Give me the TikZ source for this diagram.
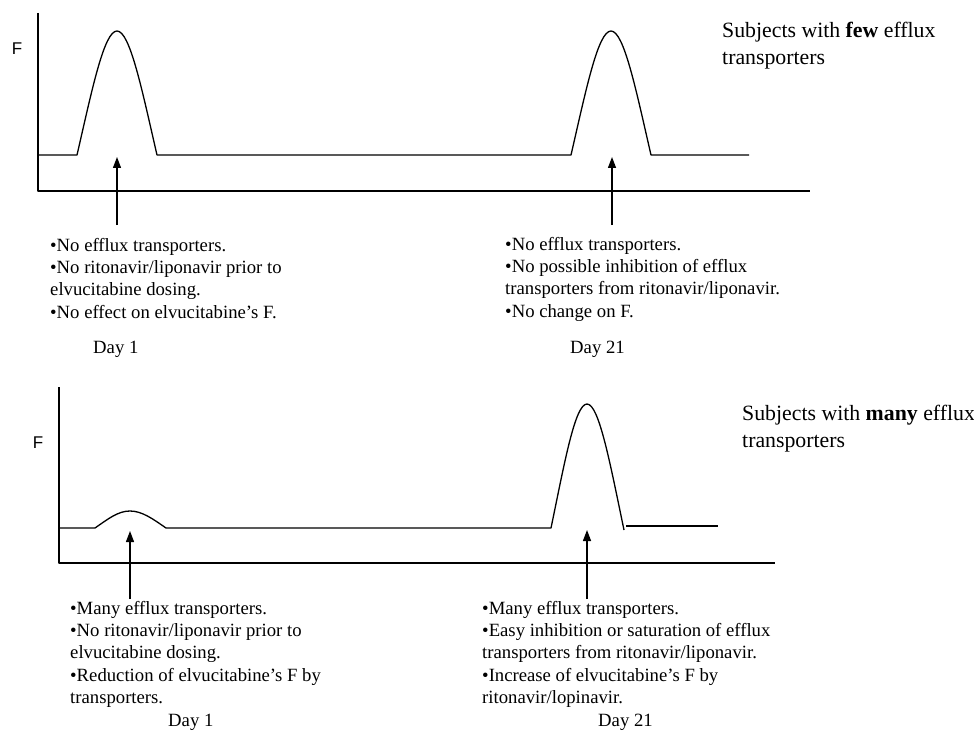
\documentclass[tikz,border=0pt]{standalone}
\usepackage{fontspec}
\setmainfont{Liberation Serif}
\newfontfamily\axisfont{Liberation Sans}
\usetikzlibrary{arrows.meta}
\begin{document}
\begin{tikzpicture}[x=1pt,y=-1pt,
  line join=round,
  axis/.style={line width=1.4pt},
  curve/.style={line width=1.3pt},
  pointer/.style={line width=1.3pt,-{Triangle[length=11pt,width=8pt]}},
  note/.style={anchor=base west,inner sep=0pt,font=\fontsize{18.7}{22.4}\selectfont},
  daylabel/.style={anchor=base west,inner sep=0pt,font=\fontsize{18.7}{22.4}\selectfont},
  title/.style={anchor=base west,inner sep=0pt,font=\fontsize{21.8}{27}\selectfont},
  flabel/.style={inner sep=0pt,font=\axisfont\fontsize{17}{18}\selectfont}]
\useasboundingbox (0,0) rectangle (974,738);

% ---------- top chart ----------
\coordinate (tO) at (38,191);
\coordinate (tYtop) at (38,13);
\coordinate (tXend) at (810,191);
\draw[axis] (tYtop) -- (tO) -- (tXend);
\node[flabel] (tF) at (17,49) {F};

\draw[curve] (38,155) -- (77,155)
  .. controls (92,90) and (104,31) .. (117,31)
  .. controls (130,31) and (142,90) .. (157,155)
  -- (571,155)
  .. controls (586,90) and (598,31) .. (611,31)
  .. controls (624,31) and (636,90) .. (651,155)
  -- (749,155);

\coordinate (tAtail1) at (117,225);
\coordinate (tAtip1) at (117,157);
\coordinate (tAtail2) at (612,225);
\coordinate (tAtip2) at (612,157);
\draw[pointer] (tAtail1) -- (tAtip1);
\draw[pointer] (tAtail2) -- (tAtip2);

\node[title] (tTitle) at (722,38) {\begin{tabular}[t]{@{}l@{}}Subjects with \textbf{few} efflux\\transporters\end{tabular}};

\node[note] (tL) at (50,251) {\begin{tabular}[t]{@{}l@{}}•No efflux transporters.\\•No ritonavir/liponavir prior to\\elvucitabine dosing.\\•No effect on elvucitabine’s F.\end{tabular}};
\node[note] (tR) at (505,250) {\begin{tabular}[t]{@{}l@{}}•No efflux transporters.\\•No possible inhibition of efflux\\transporters from ritonavir/liponavir.\\•No change on F.\end{tabular}};
\node[daylabel] (tD1) at (93,353) {Day 1};
\node[daylabel] (tD21) at (570,353) {Day 21};

% ---------- bottom chart ----------
\coordinate (bO) at (59,563);
\coordinate (bYtop) at (59,387);
\coordinate (bXend) at (775,563);
\draw[axis] (bYtop) -- (bO) -- (bXend);
\node[flabel] (bF) at (38,443) {F};

\draw[curve] (59,528) -- (95,528)
  .. controls (108,519) and (118,511) .. (130,511)
  .. controls (142,511) and (153,519) .. (166,528)
  -- (551,528)
  .. controls (564.5,463) and (575,404) .. (587,404)
  .. controls (599,404) and (610,463) .. (624,530);
\draw[curve] (626,526) -- (718,526);

\coordinate (bAtail1) at (130,599);
\coordinate (bAtip1) at (130,531);
\coordinate (bAtail2) at (587,599);
\coordinate (bAtip2) at (587,530);
\draw[pointer] (bAtail1) -- (bAtip1);
\draw[pointer] (bAtail2) -- (bAtip2);

\node[title] (bTitle) at (742,420) {\begin{tabular}[t]{@{}l@{}}Subjects with \textbf{many} efflux\\transporters\end{tabular}};

\node[note] (bL) at (70,614) {\begin{tabular}[t]{@{}l@{}}•Many efflux transporters.\\•No ritonavir/liponavir prior to\\elvucitabine dosing.\\•Reduction of elvucitabine’s F by\\transporters.\end{tabular}};
\node[note] (bR) at (482,614) {\begin{tabular}[t]{@{}l@{}}•Many efflux transporters.\\•Easy inhibition or saturation of efflux\\transporters from ritonavir/liponavir.\\•Increase of elvucitabine’s F by\\ritonavir/lopinavir.\end{tabular}};
\node[daylabel] (bD1) at (168,726) {Day 1};
\node[daylabel] (bD21) at (598,726) {Day 21};
\end{tikzpicture}
\end{document}
